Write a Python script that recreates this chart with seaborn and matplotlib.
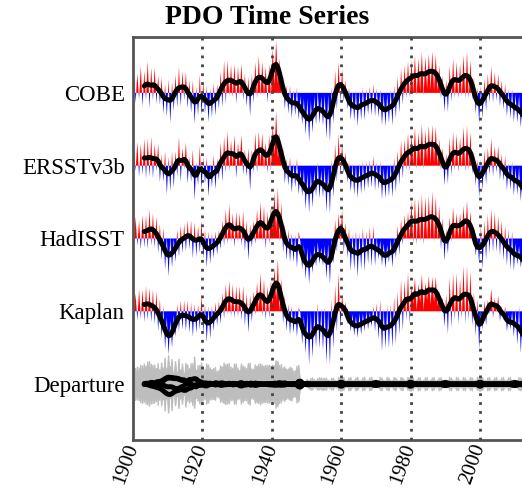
import numpy as np
import seaborn as sns
import matplotlib.pyplot as plt

# half-yearly PDO values (1900.0 .. 2012.5)
names = ['COBE', 'ERSSTv3b', 'HadISST', 'Kaplan']
tick_years = [1900, 1920, 1940, 1960, 1980, 2000]

cobe = [
    1.25, -0.55, 1.05, -0.35, 1.45, -0.75, 1.2, -0.4, 1.75, -0.85, 1.4, -0.4, 1.4, -0.6, 0.95, -0.65, 0.85, -1.15, 0.5, -1.3,
    0.75, -1.65, 0.6, -1.0, 1.0, -0.8, 1.45, -0.75, 1.2, -0.4, 1.15, -0.85, 0.7, -1.1, 0.7, -1.7, 0.35, -1.25, 1.0, -1.2,
    0.65, -1.15, 0.4, -1.6, 0.25, -1.35, 0.55, -1.25, 0.5, -0.9, 1.2, -0.8, 1.8, -0.6, 1.8, -0.2, 1.55, -0.25, 1.6, -0.6,
    1.45, -0.15, 1.6, -0.4, 1.05, -0.75, 0.9, -1.3, 1.05, -0.55, 1.7, -0.3, 2.05, -0.15, 1.7, -0.1, 1.45, -0.55, 1.6, -0.2,
    2.45, 0.45, 2.9, 0.5, 1.9, -0.1, 0.9, -0.9, 0.45, -1.15, 0.4, -1.4, 0.15, -1.25, 0.3, -1.5, -0.15, -1.75, -0.3, -2.3,
    -0.3, -2.7, -0.4, -2.2, -0.15, -1.75, 0.1, -1.7, -0.2, -1.8, -0.1, -2.5, -0.1, -2.7, 0.3, -1.7, 1.25, -0.95, 1.7, -0.5,
    1.3, -0.5, 0.7, -0.9, 0.3, -1.5, 0.05, -1.55, 0.15, -1.85, 0.1, -1.5, 0.3, -1.5, 0.2, -1.2, 0.35, -1.25, 0.5, -1.3,
    0.25, -1.35, 0.2, -1.8, -0.05, -1.85, -0.05, -1.65, 0.2, -1.8, 0.4, -1.4, 0.9, -1.1, 1.35, -0.65, 1.5, -0.3, 1.75, -0.25,
    1.8, 0.0, 2.05, -0.15, 1.9, 0.1, 2.25, -0.15, 2.0, 0.2, 2.15, 0.15, 2.3, 0.1, 2.1, 0.1, 1.5, -0.3, 0.95, -1.05,
    0.75, -1.05, 1.5, -0.5, 1.9, -0.3, 1.7, -0.3, 1.6, -0.2, 2.1, -0.3, 2.3, -0.3, 1.8, -0.4, 0.85, -1.15, 0.3, -1.7,
    0.4, -1.4, 0.8, -1.0, 1.05, -0.55, 1.45, -0.55, 1.15, -0.45, 1.05, -0.75, 0.7, -0.9, 0.5, -1.3, 0.2, -1.4, 0.2, -1.6,
    -0.05, -1.65, -0.1, -1.9, -0.35, -1.95,
]

ersst = [
    1.0, -0.3, 1.3, -0.6, 1.2, -0.5, 1.5, -0.7, 1.5, -0.6, 1.6, -0.7, 1.2, -0.3, 1.2, -0.9, 0.6, -0.9, 0.8, -1.6,
    0.5, -1.4, 0.8, -1.2, 0.8, -0.6, 1.6, -0.9, 1.0, -0.2, 1.3, -1.0, 0.5, -0.9, 0.9, -1.9, 0.2, -1.1, 1.1, -1.3,
    0.5, -1.0, 0.5, -1.7, 0.1, -1.2, 0.6, -1.3, 0.4, -0.8, 1.3, -0.9, 1.6, -0.4, 1.9, -0.3, 1.4, -0.1, 1.7, -0.7,
    1.3, 0.0, 1.7, -0.5, 0.9, -0.6, 1.0, -1.4, 0.9, -0.4, 1.8, -0.4, 1.9, 0.0, 1.8, -0.2, 1.3, -0.4, 1.7, -0.3,
    2.3, 0.6, 3.0, 0.4, 1.8, 0.0, 1.0, -1.0, 0.4, -1.1, 0.5, -1.5, 0.1, -1.2, 0.4, -1.6, -0.2, -1.7, -0.2, -2.4,
    -0.4, -2.6, -0.3, -2.3, -0.2, -1.7, 0.2, -1.8, -0.25, -1.75, -0.05, -2.55, -0.15, -2.65, 0.35, -1.75, 1.2, -0.9, 1.75, -0.55,
    1.25, -0.45, 0.75, -0.95, 0.25, -1.45, 0.1, -1.6, 0.1, -1.8, 0.15, -1.55, 0.25, -1.45, 0.25, -1.25, 0.3, -1.2, 0.55, -1.35,
    0.2, -1.3, 0.25, -1.85, -0.1, -1.8, 0.0, -1.7, 0.15, -1.75, 0.45, -1.45, 0.85, -1.05, 1.4, -0.7, 1.45, -0.25, 1.8, -0.3,
    1.75, 0.05, 2.1, -0.2, 1.85, 0.15, 2.3, -0.2, 1.95, 0.25, 2.2, 0.1, 2.25, 0.15, 2.15, 0.05, 1.45, -0.25, 1.0, -1.1,
    0.7, -1.0, 1.55, -0.55, 1.85, -0.25, 1.75, -0.35, 1.55, -0.15, 2.15, -0.35, 2.25, -0.25, 1.85, -0.45, 0.8, -1.1, 0.35, -1.75,
    0.35, -1.35, 0.85, -1.05, 1.0, -0.5, 1.5, -0.6, 1.1, -0.4, 1.1, -0.8, 0.65, -0.85, 0.55, -1.35, 0.15, -1.35, 0.25, -1.65,
    -0.1, -1.6, -0.05, -1.95, -0.4, -1.9,
]

hadisst = [
    -0.5, 1.2, -0.4, 1.0, -0.6, 1.3, -0.5, 1.3, -0.6, 1.6, -0.4, 1.4, -0.5, 1.2, -0.8, 0.8, -1.2, 0.6, -1.7, 0.1,
    -2.1, 0.1, -1.6, 0.0, -1.3, 0.5, -1.0, 0.7, -0.8, 0.8, -0.7, 1.0, -0.6, 1.0, -1.1, 0.9, -1.0, 0.7, -0.8, 1.0,
    -1.1, 0.5, -1.6, 0.4, -1.4, 0.3, -1.1, 0.4, -0.9, 0.5, -0.6, 1.0, -0.4, 1.6, -0.3, 1.9, -0.2, 1.4, -0.5, 1.5,
    -0.2, 1.4, -0.4, 1.5, -0.7, 1.0, -1.2, 0.8, -0.5, 1.0, -0.3, 1.6, -0.1, 2.0, -0.2, 1.8, -0.6, 1.5, -0.3, 1.7,
    0.5, 2.5, 0.4, 2.8, -0.2, 2.0, -0.8, 0.8, -1.2, 0.5, -1.3, 0.3, -1.3, 0.2, -1.6, 0.4, -0.2, -1.7, -0.35, -2.25,
    -0.5, -2.5, -0.7, -1.9, -0.35, -1.55, -0.2, -1.4, -0.5, -1.5, -0.4, -2.2, -0.3, -2.5, 0.0, -1.4, 1.05, -0.75, 1.4, -0.2,
    1.6, -0.8, 0.9, -1.1, 0.6, -1.8, 0.25, -1.75, 0.45, -2.15, 0.3, -1.7, 0.6, -1.8, 0.4, -1.4, 0.65, -1.55, 0.7, -1.5,
    0.05, -1.15, -0.1, -1.5, -0.25, -1.65, -0.35, -1.35, 0.0, -1.6, 0.1, -1.1, 0.7, -0.9, 1.05, -0.35, 1.3, -0.1, 1.45, 0.05,
    2.1, -0.3, 2.25, -0.35, 2.2, -0.2, 2.45, -0.35, 2.3, -0.1, 2.35, -0.05, 2.6, -0.2, 2.3, -0.1, 1.8, -0.6, 1.15, -1.25,
    0.55, -0.85, 1.2, -0.2, 1.7, -0.1, 1.4, 0.0, 1.4, 0.0, 1.8, 0.0, 2.1, -0.1, 1.5, -0.1, 0.65, -0.95, 0.0, -1.4,
    0.7, -1.7, 1.0, -1.2, 1.35, -0.85, 1.65, -0.75, 1.45, -0.75, 1.25, -0.95, 1.0, -1.2, 0.7, -1.5, 0.5, -1.7, 0.4, -1.8,
    -0.25, -1.45, -0.4, -1.6, -0.55, -1.75,
]

kaplan = [
    -0.3, 1.0, -0.5, 1.2, -0.4, 1.2, -0.6, 1.4, -0.5, 1.3, -0.6, 1.2, -0.7, 1.1, -1.1, 0.7, -1.5, 0.3, -2.1, -0.3,
    -2.4, -0.5, -2.0, -0.2, -1.4, 0.4, -1.1, 0.6, -1.0, 0.6, -1.1, 0.6, -1.2, 0.5, -1.4, 0.4, -1.2, 0.4, -1.0, 0.9,
    -1.2, 0.4, -1.7, 0.3, -1.5, 0.3, -1.1, 0.5, -0.8, 0.6, -0.7, 1.0, -0.4, 1.5, -0.2, 1.7, -0.3, 1.5, -0.4, 1.4,
    -0.3, 1.4, -0.5, 1.4, -0.8, 1.0, -1.2, 0.9, -0.6, 1.1, -0.2, 1.6, 0.0, 2.1, -0.3, 1.8, -0.5, 1.4, -0.4, 1.7,
    0.4, 2.4, 0.6, 2.9, 0.0, 1.8, -0.7, 0.9, -1.1, 0.4, -1.3, 0.3, -1.2, 0.1, -1.4, 0.2, -0.1, -1.8, -0.25, -2.35,
    -0.05, -2.95, -0.05, -2.55, 0.1, -2.0, 0.45, -2.05, 0.15, -2.15, 0.25, -2.85, 0.1, -2.95, 0.65, -2.05, 1.45, -1.15, 2.1, -0.9,
    0.9, -0.1, 0.5, -0.7, -0.1, -1.1, -0.15, -1.35, -0.25, -1.45, -0.1, -1.3, -0.1, -1.1, 0.0, -1.0, -0.05, -0.85, 0.3, -1.1,
    0.45, -1.55, 0.6, -2.2, 0.15, -2.05, 0.35, -2.05, 0.4, -2.0, 0.8, -1.8, 1.1, -1.3, 1.75, -1.05, 1.7, -0.5, 2.15, -0.65,
    1.4, 0.4, 1.85, 0.05, 1.5, 0.5, 2.05, 0.05, 1.6, 0.6, 1.95, 0.35, 1.9, 0.5, 1.9, 0.3, 1.1, 0.1, 0.75, -0.85,
    0.95, -1.25, 1.9, -0.9, 2.1, -0.5, 2.1, -0.7, 1.8, -0.4, 2.5, -0.7, 2.5, -0.5, 2.2, -0.8, 1.05, -1.35, 0.7, -2.1,
    0.0, -1.0, 0.6, -0.8, 0.65, -0.15, 1.25, -0.35, 0.75, -0.05, 0.85, -0.55, 0.3, -0.5, 0.3, -1.1, -0.2, -1.0, 0.0, -1.4,
    0.15, -1.85, 0.3, -2.3, -0.15, -2.15,
]

sns.set_style('white')
plt.rcParams['font.family'] = ['Liberation Serif', 'DejaVu Serif']

t = 1900.25 + 0.5 * np.arange(len(cobe))
w = np.array([1, 3, 4, 3, 1]) / 12.0


def smooth(v):
    v = np.asarray(v, dtype=float)
    return np.convolve(v, w, 'same') / np.convolve(np.ones_like(v), w, 'same')


series = np.array([cobe, ersst, hadisst, kaplan], dtype=float)
dep = series - series.mean(axis=0)
offsets = [16, 12, 8, 4]
keep = t >= 1903

fig = plt.figure(figsize=(5.22, 4.88), dpi=100)
ax = fig.add_axes([133 / 522, 48 / 488, 395.6 / 522, 403 / 488])

for v, off in zip(series, offsets):
    ax.fill_between(t, off, off + v, where=v >= 0, interpolate=True, color='#ff0000', lw=0, zorder=1)
    ax.fill_between(t, off, off + v, where=v <= 0, interpolate=True, color='#0000ff', lw=0, zorder=1)
    sns.lineplot(x=t[keep], y=off + smooth(v)[keep], color='black', lw=3.6, ax=ax, zorder=4, legend=False)

for d in dep:
    ax.fill_between(t, 0, d, color='#bdbdbd', lw=0, zorder=1)
    ax.plot(t, d, color='#bdbdbd', lw=1.0, zorder=1)
for d in dep:
    sns.lineplot(x=t[keep], y=smooth(d)[keep], color='black', lw=3.6, ax=ax, zorder=4, legend=False)

for yr in tick_years[1:]:
    ax.axvline(yr, color='#444444', lw=2, ls=(0, (1, 2.2)), zorder=3)

ax.set_xlim(1900, 2014)
ax.set_ylim(-3.07, 19.07)
ax.set_yticks(offsets + [0])
ax.set_yticklabels(names + ['Departure'], fontsize=16.5)
ax.set_xticks(tick_years)
ax.set_xticklabels([str(y) for y in tick_years], fontsize=15, rotation=70,
                   ha='right', va='center', rotation_mode='anchor')
ax.tick_params(axis='y', length=0, pad=6, labelcolor='black')
ax.tick_params(axis='x', length=0, pad=3, labelcolor='black')
ax.set_xlabel('')
ax.set_ylabel('')
for s in ['left', 'top', 'bottom']:
    ax.spines[s].set_color('#555555')
    ax.spines[s].set_linewidth(2)
ax.spines['right'].set_visible(False)

fig.text(267 / 522, 1 - 18 / 488, 'PDO Time Series', ha='center', va='center',
         fontsize=20, fontweight='bold', color='black')

fig.savefig('out.png', dpi=100)
